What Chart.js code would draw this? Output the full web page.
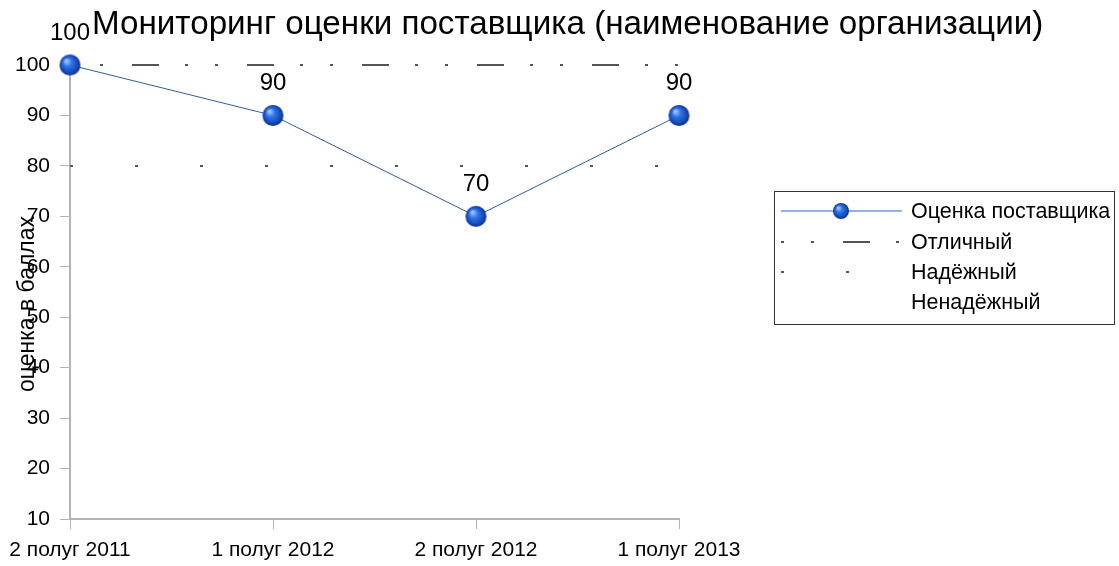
<!DOCTYPE html>
<html>
<head>
<meta charset="utf-8">
<script src="https://cdn.jsdelivr.net/npm/chart.js@4.4.1/dist/chart.umd.min.js"></script>
<style>
    html, body { margin: 0; padding: 0; background: #fff; }
    #wrap { width: 1119px; height: 566px; }
</style>
</head>
<body>
<div id="wrap"><canvas id="monitoring" width="1119" height="566"></canvas></div>
<script>
// данные графика
const periods = ['2 полуг 2011', '1 полуг 2012', '2 полуг 2012', '1 полуг 2013'];
const supplierScore = [100, 90, 70, 90];
const excellentLevel = [100, 100, 100, 100];
const reliableLevel = [80, 80, 80, 80];
const unreliableLevel = [];
const yTicks = [10, 20, 30, 40, 50, 60, 70, 80, 90, 100];

const FONT = '"Liberation Sans", Arial, sans-serif';

// синий шарик для маркера
function makeBall(r) {
    const c = document.createElement('canvas');
    c.width = r * 2 + 2;
    c.height = r * 2 + 2;
    const g = c.getContext('2d');
    const cx = r + 1, cy = r + 1;
    const grad = g.createRadialGradient(cx - r * 0.35, cy - r * 0.4, r * 0.1, cx, cy, r);
    grad.addColorStop(0, '#9cc2ff');
    grad.addColorStop(0.35, '#2f74e6');
    grad.addColorStop(0.8, '#1448b8');
    grad.addColorStop(1, '#0b2f86');
    g.fillStyle = grad;
    g.beginPath();
    g.arc(cx, cy, r, 0, Math.PI * 2);
    g.fill();
    return c;
}
const ball = makeBall(10.5);
const smallBall = makeBall(8);

const excellentDash = [3, 27, 3, 29, 27, 26];
const reliableDash = [3, 62];

const extras = {
    id: 'extras',
    afterDatasetsDraw(chart) {
        const ctx = chart.ctx;
        ctx.save();

        // подписи значений
        const meta = chart.getDatasetMeta(0);
        ctx.fillStyle = '#000';
        ctx.font = '24px ' + FONT;
        ctx.textAlign = 'center';
        ctx.textBaseline = 'middle';
        meta.data.forEach((pt, i) => {
            ctx.fillText(String(supplierScore[i]), pt.x, pt.y - 32);
        });

        // заголовок
        ctx.font = '33.2px ' + FONT;
        ctx.textAlign = 'left';
        ctx.textBaseline = 'alphabetic';
        ctx.fillText('Мониторинг оценки поставщика (наименование организации)', 92, 34);

        // подпись оси Y
        ctx.save();
        ctx.translate(28, 304);
        ctx.rotate(-Math.PI / 2);
        ctx.font = '23px ' + FONT;
        ctx.textAlign = 'center';
        ctx.textBaseline = 'middle';
        ctx.fillText('оценка в баллах', 0, 0);
        ctx.restore();

        // легенда
        const lx = 774.5, ly = 191.5, lw = 340, lh = 133;
        ctx.strokeStyle = '#333';
        ctx.lineWidth = 1;
        ctx.setLineDash([]);
        ctx.strokeRect(lx, ly, lw, lh);
        const rows = [211, 242, 272, 302];
        chart.data.datasets.forEach((ds, i) => {
            const y = rows[i];
            if (ds.borderWidth > 0 && ds.borderColor !== 'transparent') {
                ctx.beginPath();
                ctx.strokeStyle = i === 0 ? '#6a98d4' : ds.borderColor;
                ctx.lineWidth = i === 0 ? 1.5 : ds.borderWidth;
                ctx.setLineDash(ds.borderDash || []);
                ctx.moveTo(781, y);
                ctx.lineTo(902, y);
                ctx.stroke();
                ctx.setLineDash([]);
            }
            if (i === 0) {
                ctx.drawImage(smallBall, 841 - smallBall.width / 2, y - smallBall.height / 2);
            }
            ctx.fillStyle = '#000';
            ctx.font = '21.5px ' + FONT;
            ctx.textAlign = 'left';
            ctx.textBaseline = 'middle';
            ctx.fillText(ds.label, 911, y + 1);
        });
        ctx.restore();
    }
};

const ctx = document.getElementById('monitoring').getContext('2d');
new Chart(ctx, {
    type: 'line',
    data: {
        labels: periods,
        datasets: [
            {
                label: 'Оценка поставщика',
                data: supplierScore,
                borderColor: '#2a5f9e',
                borderWidth: 1,
                pointStyle: ball,
                pointRadius: 10,
                tension: 0,
                clip: false,
                order: 0
            },
            {
                label: 'Отличный',
                data: excellentLevel,
                borderColor: '#555',
                borderWidth: 2,
                borderDash: excellentDash,
                pointRadius: 0,
                clip: false,
                order: 1
            },
            {
                label: 'Надёжный',
                data: reliableLevel,
                borderColor: '#555',
                borderWidth: 2,
                borderDash: reliableDash,
                pointRadius: 0,
                order: 2
            },
            {
                label: 'Ненадёжный',
                data: unreliableLevel,
                borderColor: 'transparent',
                borderWidth: 0,
                pointRadius: 0,
                order: 3
            }
        ]
    },
    options: {
        responsive: false,
        animation: false,
        layout: { padding: { left: 0, top: 65, right: 440, bottom: 0 } },
        plugins: {
            legend: { display: false },
            title: { display: false },
            tooltip: { enabled: false }
        },
        scales: {
            x: {
                offset: false,
                grid: { drawOnChartArea: false, color: '#b3b3b3', tickLength: 10, lineWidth: 1 },
                border: { color: '#b3b3b3', width: 2 },
                ticks: { color: '#000', font: { family: FONT, size: 21 }, padding: 9, maxRotation: 0, autoSkip: false },
                afterFit(scale) { scale.height = 47; }
            },
            y: {
                min: 10,
                max: 100,
                afterBuildTicks(scale) { scale.ticks = yTicks.map(v => ({ value: v })); },
                grid: { drawOnChartArea: false, color: '#b3b3b3', tickLength: 10, lineWidth: 1 },
                border: { color: '#b3b3b3', width: 2 },
                ticks: { color: '#000', font: { family: FONT, size: 21 }, padding: 10 },
                afterFit(scale) { scale.width = 70; }
            }
        }
    },
    plugins: [extras]
});
</script>
</body>
</html>
